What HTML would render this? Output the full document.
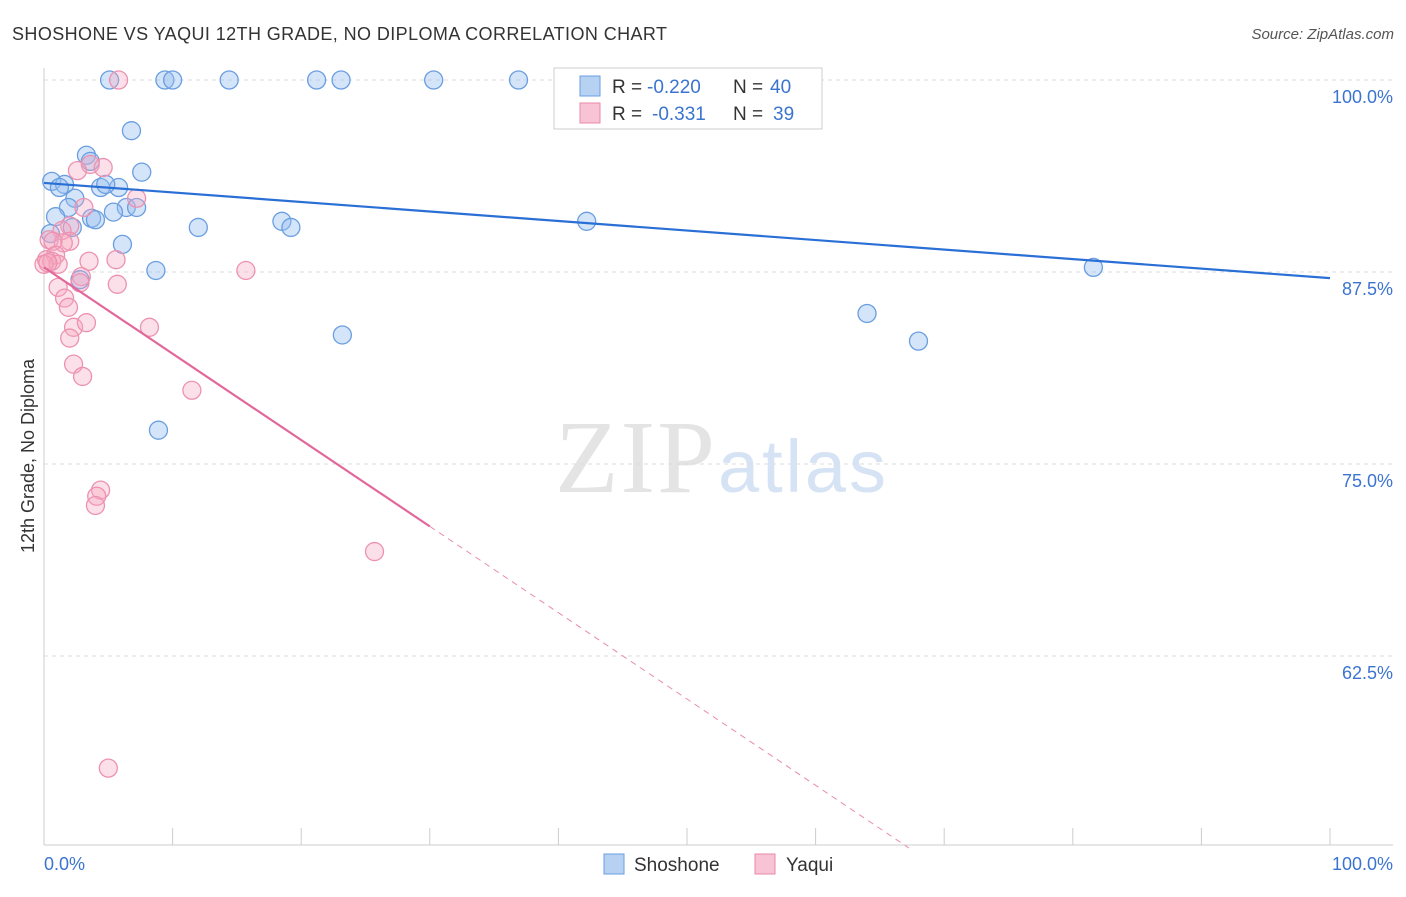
<!DOCTYPE html>
<html><head><meta charset="utf-8"><style>
body{margin:0;background:#fff;font-family:"Liberation Sans",sans-serif}
</style></head><body>
<svg width="1406" height="892" xmlns="http://www.w3.org/2000/svg" font-family="Liberation Sans, sans-serif">
<text x="12" y="40" font-size="18" fill="#333" textLength="655">SHOSHONE VS YAQUI 12TH GRADE, NO DIPLOMA CORRELATION CHART</text>
<text x="1394" y="39" font-size="15" fill="#555" text-anchor="end" font-style="italic">Source: ZipAtlas.com</text>
<text x="555" y="492" font-size="104" fill="#e4e4e4" textLength="160" font-family="Liberation Serif, serif">ZIP</text>
<text x="718" y="492" font-size="74" fill="#d6e3f4" textLength="168">atlas</text>
<g id="grid"></g>
<line x1="44" y1="68" x2="44" y2="845" stroke="#ccc"/>
<line x1="44" y1="845" x2="1393" y2="845" stroke="#ccc"/>
<text transform="translate(34,456) rotate(-90)" font-size="18" fill="#333" text-anchor="middle">12th Grade, No Diploma</text>
<text x="44" y="870" font-size="18" fill="#3b74d0">0.0%</text>
<text x="1393" y="870" font-size="18" fill="#3b74d0" text-anchor="end">100.0%</text>
<g id="pts"></g>
<g id="lines"></g>
<rect x="554" y="68" width="268" height="61" fill="#fff" stroke="#ccc"/>
<rect x="580" y="76" width="20" height="20" fill="#b7d1f3" stroke="#6a9ee0"/>
<rect x="580" y="103" width="20" height="20" fill="#f8c3d4" stroke="#e88aa8"/>
<g font-size="19" fill="#333">
<text x="612" y="93">R =</text>
<text x="647" y="93" fill="#3b74d0">-0.220</text>
<text x="733" y="93">N =</text>
<text x="770" y="93" fill="#3b74d0">40</text>
<text x="612" y="120">R =</text>
<text x="652" y="120" fill="#3b74d0">-0.331</text>
<text x="733" y="120">N =</text>
<text x="773" y="120" fill="#3b74d0">39</text>
</g>
<rect x="604" y="854" width="20" height="20" fill="#b7d1f3" stroke="#6a9ee0"/>
<text x="634" y="871" font-size="19" fill="#333">Shoshone</text>
<rect x="755" y="854" width="20" height="20" fill="#f8c3d4" stroke="#e88aa8"/>
<text x="786" y="871" font-size="19" fill="#333">Yaqui</text>
</svg>
<script>
const yTicks=[100,87.5,75,62.5];
const yTickLabels=["100.0%","87.5%","75.0%","62.5%"];
const xTicks=[0,10,20,30,40,50,60,70,80,90,100];
const shoshoneX=[5.1,9.4,10.0,14.4,21.2,23.1,30.3,36.9,6.8,3.3,3.6,7.6,0.6,1.6,1.2,4.4,5.8,4.8,2.4,1.9,6.4,7.2,5.4,0.9,3.7,4.0,2.2,12.0,18.5,19.2,42.2,0.5,6.1,8.7,81.6,2.8,64.0,23.2,68.0,8.9];
const shoshoneY=[100,100,100,100,100,100,100,100,96.7,95.1,94.7,94.0,93.4,93.2,93.0,93.0,93.0,93.2,92.3,91.7,91.7,91.7,91.4,91.1,91.0,90.9,90.4,90.4,90.8,90.4,90.8,90.0,89.3,87.6,87.8,87.0,84.8,83.4,83.0,77.2];
const yaquiX=[5.8,3.6,2.6,4.6,7.2,3.1,2.0,1.4,0.4,2.0,1.5,0.7,0.9,0.2,0.6,1.1,0,3.5,5.6,15.7,5.7,2.9,1.1,1.6,1.9,2.3,3.3,8.2,2.0,2.3,3.0,11.5,4.4,4.1,4.0,25.7,5.0,0.3,2.8];
const yaquiY=[100,94.5,94.1,94.3,92.3,91.7,90.5,90.2,89.6,89.5,89.4,89.5,88.6,88.3,88.2,88.0,88.0,88.2,88.3,87.6,86.7,87.2,86.5,85.8,85.2,83.9,84.2,83.9,83.2,81.5,80.7,79.8,73.3,72.9,72.3,69.3,55.2,88.1,86.8];
const shoshoneTrend=[93.3,87.1];
const yaquiTrend=[87.8,31.6];
const ns="http://www.w3.org/2000/svg";
const sx=v=>44+v*12.86, sy=v=>80+(100-v)*15.36;
function mk(t,a,p){const e=document.createElementNS(ns,t);for(const k in a)e.setAttribute(k,a[k]);p.appendChild(e);return e;}
const grid=document.getElementById('grid');
yTicks.forEach((t,i)=>{
 const l=mk('line',{x1:44,x2:1393,y1:sy(t),y2:sy(t),stroke:'#ddd','stroke-dasharray':'4,4'},grid);
 
 
 const tx=mk('text',{x:1393,y:sy(t)+23,'font-size':18,fill:'#3b74d0','text-anchor':'end'},grid);
 tx.textContent=yTickLabels[i];
 
 
});
xTicks.forEach(t=>{
 const l=mk('line',{x1:sx(t),x2:sx(t),y1:828,y2:845,stroke:'#ccc'},grid);
 
 
});
const pts=document.getElementById('pts');
shoshoneX.forEach((x,i)=>{
 const c=mk('circle',{cx:sx(x),cy:sy(shoshoneY[i]),r:9,fill:'rgba(150,190,240,0.4)',stroke:'#6a9ee0','stroke-width':1.3},pts);
 
 
});
yaquiX.forEach((x,i)=>{
 const c=mk('circle',{cx:sx(x),cy:sy(yaquiY[i]),r:9,fill:'rgba(245,165,192,0.35)',stroke:'#ec92b0','stroke-width':1.3},pts);
 
 
});
const lines=document.getElementById('lines');
const b=mk('line',{x1:sx(0),y1:sy(shoshoneTrend[0]),x2:sx(100),y2:sy(shoshoneTrend[1]),stroke:'#2a6fd6','stroke-width':2.2},lines);


const yAt=x=>yaquiTrend[0]+(yaquiTrend[1]-yaquiTrend[0])*x/100;
const xs=30, xe=(yaquiTrend[0]-50)/(yaquiTrend[0]-yaquiTrend[1])*100;
const p1=mk('line',{x1:sx(0),y1:sy(yAt(0)),x2:sx(xs),y2:sy(yAt(xs)),stroke:'#e2679a','stroke-width':2.2},lines);


const p2=mk('line',{x1:sx(xs),y1:sy(yAt(xs)),x2:sx(xe),y2:sy(yAt(xe)),stroke:'#e98aae','stroke-width':1,'stroke-dasharray':'6,5'},lines);


</script>
</body></html>
